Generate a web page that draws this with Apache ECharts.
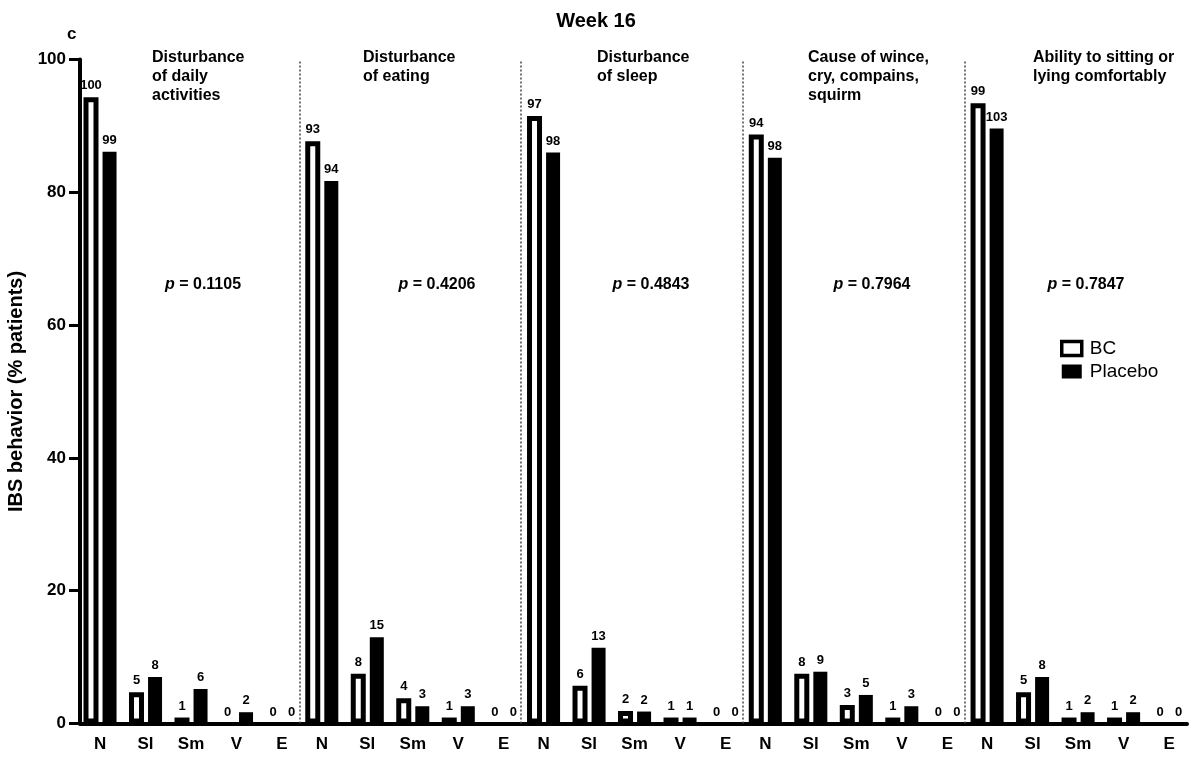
<!DOCTYPE html>
<html>
<head>
<meta charset="utf-8">
<script src="https://cdn.jsdelivr.net/npm/echarts@6/dist/echarts.min.js"></script>
<style>
  html, body { margin: 0; padding: 0; background: #fff; }
  #chart { width: 1192px; height: 765px; }
</style>
</head>
<body>
<div id="chart"></div>
<script>
// IBS behaviour categories (x labels, repeated in every panel)
const categories = ['N', 'Sl', 'Sm', 'V', 'E'];

const panelTitles = [
  'Disturbance\nof daily\nactivities',
  'Disturbance\nof eating',
  'Disturbance\nof sleep',
  'Cause of wince,\ncry, compains,\nsquirm',
  'Ability to sitting or\nlying comfortably'
];

const pValues = ['0.1105', '0.4206', '0.4843', '0.7964', '0.7847'];

// % of patients, one row per panel, one value per category
const bcPercent = [
  [94.3, 4.7, 0.9, 0, 0],
  [87.7, 7.5, 3.8, 0.9, 0],
  [91.5, 5.7, 1.9, 0.9, 0],
  [88.7, 7.5, 2.8, 0.9, 0],
  [93.4, 4.7, 0.9, 0.9, 0]
];
const placeboPercent = [
  [86.1, 7.0, 5.2, 1.7, 0],
  [81.7, 13.0, 2.6, 2.6, 0],
  [86.0, 11.4, 1.8, 0.9, 0],
  [85.2, 7.8, 4.3, 2.6, 0],
  [89.6, 7.0, 1.7, 1.7, 0]
];

// number of patients written above each bar
const bcCount = [
  [100, 5, 1, 0, 0],
  [93, 8, 4, 1, 0],
  [97, 6, 2, 1, 0],
  [94, 8, 3, 1, 0],
  [99, 5, 1, 1, 0]
];
const placeboCount = [
  [99, 8, 6, 2, 0],
  [94, 15, 3, 3, 0],
  [98, 13, 2, 1, 0],
  [98, 9, 5, 3, 0],
  [103, 8, 2, 2, 0]
];

// ---- layout -------------------------------------------------------------
const FONT = '"Liberation Sans", Arial, Helvetica, sans-serif';
const PANEL_PITCH = 4.874;          // distance between panels, in category steps
const X_MIN = -0.44;
const X_MAX = 23.89;

const xPos = (p, c) => p * PANEL_PITCH + c;

const labelByPos = {};
const catPositions = [];
for (let p = 0; p < panelTitles.length; p++) {
  categories.forEach((name, c) => {
    const x = xPos(p, c);
    catPositions.push(x);
    labelByPos[x.toFixed(3)] = name;
  });
}

const separators = [];
for (let p = 0; p < panelTitles.length - 1; p++) {
  separators.push(xPos(p, categories.length - 1) + (PANEL_PITCH - (categories.length - 1)) * 0.43);
}

// empty bars (value 0) only carry their "0" label
function seriesData(percent, count) {
  const out = [];
  percent.forEach((row, p) => {
    row.forEach((v, c) => {
      const item = { value: [xPos(p, c), v], count: count[p][c] };
      if (v === 0) item.itemStyle = { color: 'rgba(0,0,0,0)', borderWidth: 0 };
      out.push(item);
    });
  });
  return out;
}

const labelStyle = {
  show: true,
  position: 'top',
  distance: 5,
  color: '#000',
  fontFamily: FONT,
  fontWeight: 'bold',
  fontSize: 13,
  formatter: (prm) => String(prm.data.count)
};

// panel headings and p-values
const titleLeft = [152, 363, 597, 808, 1033];
const pCenter = [203, 437, 651, 872, 1086];

const graphics = [
  {
    type: 'text', x: 67, y: 26,
    style: { text: 'c', fill: '#000', font: 'bold 17px ' + FONT }
  }
];
panelTitles.forEach((t, i) => {
  graphics.push({
    type: 'text', x: titleLeft[i], y: 48,
    style: {
      text: t, fill: '#000', fontFamily: FONT, fontWeight: 'bold',
      fontSize: 16, lineHeight: 19, align: 'left', verticalAlign: 'top'
    }
  });
});
pValues.forEach((v, i) => {
  graphics.push({
    type: 'text', x: pCenter[i], y: 285,
    style: {
      text: '{i|p} = ' + v, fill: '#000', fontFamily: FONT, fontWeight: 'bold',
      fontSize: 16, align: 'center', verticalAlign: 'middle',
      rich: { i: { fontStyle: 'italic', fontWeight: 'bold', fontSize: 16, fontFamily: FONT, fill: '#000' } }
    }
  });
});

const chart = echarts.init(document.getElementById('chart'), null, { renderer: 'canvas' });

chart.setOption({
  animation: false,
  backgroundColor: '#fff',
  title: {
    text: 'Week 16',
    left: 'center',
    top: 6,
    textStyle: { fontFamily: FONT, fontWeight: 'bold', fontSize: 20, color: '#000' }
  },
  legend: {
    orient: 'vertical',
    left: 1055,
    top: 334,
    itemWidth: 20,
    itemHeight: 14,
    itemGap: 4,
    selectedMode: false,
    textStyle: { fontFamily: FONT, fontSize: 19, color: '#000', padding: [0, 0, 0, 3] },
    data: [
      { name: 'BC', icon: 'rect', itemStyle: { color: '#fff', borderColor: '#000', borderWidth: 3.5 } },
      { name: 'Placebo', icon: 'rect', itemStyle: { color: '#000', borderWidth: 0 } }
    ]
  },
  grid: { left: 80, right: 5, top: 59.5, bottom: 41.5, containLabel: false, outerBoundsMode: 'none' },
  xAxis: {
    type: 'value',
    min: X_MIN,
    max: X_MAX,
    splitLine: { show: false },
    axisTick: { show: false },
    axisLine: { onZero: false, lineStyle: { color: '#000', width: 4 } },
    axisLabel: {
      customValues: catPositions,
      formatter: (v) => labelByPos[Number(v).toFixed(3)] || '',
      fontFamily: FONT, fontWeight: 'bold', fontSize: 17, color: '#000', margin: 12
    }
  },
  yAxis: {
    type: 'value',
    min: 0,
    max: 100,
    interval: 20,
    name: 'IBS behavior (% patients)',
    nameLocation: 'middle',
    nameGap: 49,
    nameTextStyle: { fontFamily: FONT, fontWeight: 'bold', fontSize: 20, color: '#000' },
    splitLine: { show: false },
    axisLine: { show: true, onZero: false, lineStyle: { color: '#000', width: 4 } },
    axisTick: { show: true, length: 11, lineStyle: { color: '#000', width: 3 } },
    axisLabel: { fontFamily: FONT, fontWeight: 'bold', fontSize: 17, color: '#000', margin: 14 }
  },
  graphic: graphics,
  series: [
    {
      name: 'BC',
      type: 'bar',
      barWidth: 15,
      barGap: '27%',
      itemStyle: { color: '#fff', borderColor: '#000', borderWidth: 5 },
      label: labelStyle,
      data: seriesData(bcPercent, bcCount)
    },
    {
      name: 'Placebo',
      type: 'bar',
      barWidth: 14,
      barGap: '27%',
      itemStyle: { color: '#000' },
      label: labelStyle,
      data: seriesData(placeboPercent, placeboCount)
    },
    {
      // dotted dividers between the five panels
      name: 'dividers',
      type: 'line',
      silent: true,
      data: [],
      markLine: {
        silent: true,
        symbol: 'none',
        label: { show: false },
        lineStyle: { type: [2, 2], color: '#444', width: 1.5 },
        data: separators.map((x) => ({ xAxis: x }))
      }
    }
  ]
});
</script>
</body>
</html>
